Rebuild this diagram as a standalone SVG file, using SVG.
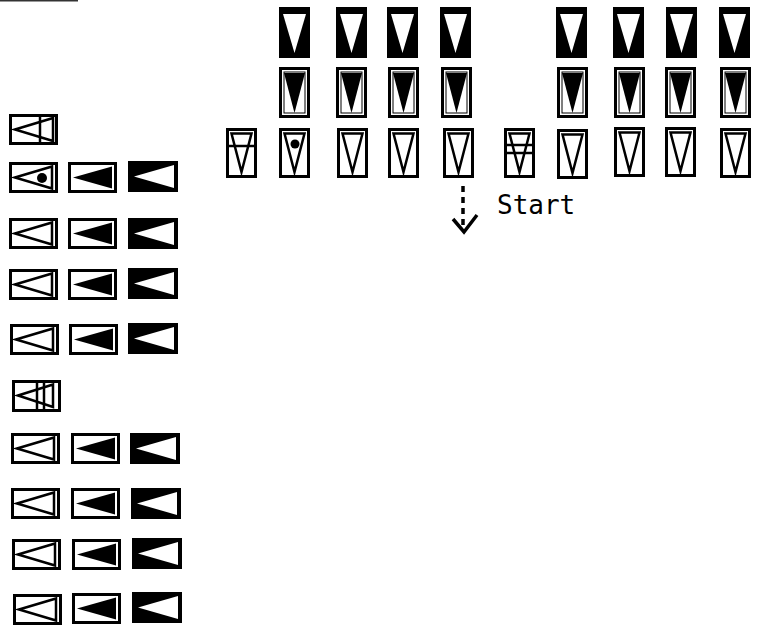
<svg xmlns="http://www.w3.org/2000/svg" xmlns:xlink="http://www.w3.org/1999/xlink" width="763" height="629" viewBox="0 0 763 629">
<style>
.frame{fill:#fff;stroke:#000;stroke-width:3}
.inner{fill:none;stroke:#000;stroke-width:1}
.blk{fill:#000}
.wht{fill:#fff}
.tri{fill:none;stroke:#000;stroke-width:2.5;stroke-linejoin:miter}
.ln{stroke:#000;stroke-width:2.5}
.conn{fill:none;stroke:#000;stroke-width:3.5}
.lbl{font-family:"DejaVu Sans Mono","Liberation Mono",monospace;font-size:26px;fill:#000}
</style>
<defs>
<!-- vertical glyphs 31x51 -->
<g id="vA"><rect x="0" y="0" width="31" height="51" class="blk"/><polygon points="4,7 27,7 15.5,46" class="wht"/></g>
<g id="vB"><rect x="1.5" y="1.5" width="28" height="48" class="frame"/><rect x="5" y="5" width="21" height="41" class="inner"/><polygon points="5,6 26,6 15.5,46" class="blk"/></g>
<g id="vC"><rect x="1.5" y="1.5" width="28" height="47" class="frame"/><polygon points="5.5,5.5 25.5,5.5 15.5,44" class="tri"/></g>
<!-- horizontal glyphs 49x31 -->
<g id="hA"><rect x="0" y="0" width="50" height="31" class="blk"/><polygon points="6,15.5 46,4 46,27" class="wht"/></g>
<g id="hB"><rect x="1.5" y="1.5" width="46" height="28" class="frame"/><polygon points="5,15.5 44,4.5 44,26.5" class="blk"/></g>
<g id="hC"><rect x="1.5" y="1.5" width="46" height="28" class="frame"/><polygon points="6,15.5 43,4.5 43,26.5" class="tri"/></g>
</defs>

<line x1="0" y1="0.8" x2="78" y2="0.8" stroke="#333" stroke-width="1.5"/>

<!-- left column -->
<g id="L0"><rect x="10.5" y="115.5" width="46" height="28" class="frame"/><line x1="40" y1="115" x2="40" y2="144" class="ln"/><polygon points="15,129.5 53,118 53,141" class="tri"/></g>
<g id="L1a"><use xlink:href="#hC" x="9" y="162"/><circle cx="42" cy="178" r="5" class="blk"/></g>
<g id="L1b"><use xlink:href="#hB" x="68" y="162"/></g>
<g id="L1c"><use xlink:href="#hA" x="128" y="161"/></g>
<g id="L2a"><use xlink:href="#hC" x="9" y="218"/></g>
<g id="L2b"><use xlink:href="#hB" x="68" y="218"/></g>
<g id="L2c"><use xlink:href="#hA" x="128" y="218"/></g>
<g id="L3a"><use xlink:href="#hC" x="9" y="269"/></g>
<g id="L3b"><use xlink:href="#hB" x="68" y="269"/></g>
<g id="L3c"><use xlink:href="#hA" x="128" y="268"/></g>
<g id="L4a"><use xlink:href="#hC" x="10" y="324"/></g>
<g id="L4b"><use xlink:href="#hB" x="69" y="324"/></g>
<g id="L4c"><use xlink:href="#hA" x="128" y="323"/></g>
<g id="L5"><rect x="13.5" y="381.5" width="46" height="29" class="frame"/><line x1="37" y1="381" x2="37" y2="411" class="ln"/><line x1="44" y1="381" x2="44" y2="411" class="ln"/><polygon points="18,395.5 53,384.5 53,407" class="tri"/></g>
<g id="L6a"><use xlink:href="#hC" x="11" y="433"/></g>
<g id="L6b"><use xlink:href="#hB" x="71" y="433"/></g>
<g id="L6c"><use xlink:href="#hA" x="130" y="433"/></g>
<g id="L7a"><use xlink:href="#hC" x="11" y="488"/></g>
<g id="L7b"><use xlink:href="#hB" x="71" y="488"/></g>
<g id="L7c"><use xlink:href="#hA" x="131" y="488"/></g>
<g id="L8a"><use xlink:href="#hC" x="12" y="539"/></g>
<g id="L8b"><use xlink:href="#hB" x="72" y="539"/></g>
<g id="L8c"><use xlink:href="#hA" x="132" y="538"/></g>
<g id="L9a"><use xlink:href="#hC" x="13" y="594"/></g>
<g id="L9b"><use xlink:href="#hB" x="72" y="593"/></g>
<g id="L9c"><use xlink:href="#hA" x="132" y="592"/></g>

<!-- top rows -->
<g id="S1"><rect x="227.5" y="129.5" width="28" height="47" class="frame"/><line x1="227" y1="146" x2="256" y2="146" class="ln"/><polygon points="231.5,133.5 251.5,133.5 241.5,172" class="tri"/></g>
<g id="T1a"><use xlink:href="#vA" x="279" y="7"/></g>
<g id="T1b"><use xlink:href="#vB" x="279" y="67"/></g>
<g id="T1c"><use xlink:href="#vC" x="279" y="128"/><circle cx="295" cy="144" r="4.5" class="blk"/></g>
<g id="T2a"><use xlink:href="#vA" x="336" y="7"/></g>
<g id="T2b"><use xlink:href="#vB" x="336" y="67"/></g>
<g id="T2c"><use xlink:href="#vC" x="337" y="128"/></g>
<g id="T3a"><use xlink:href="#vA" x="387" y="7"/></g>
<g id="T3b"><use xlink:href="#vB" x="388" y="67"/></g>
<g id="T3c"><use xlink:href="#vC" x="388" y="128"/></g>
<g id="T4a"><use xlink:href="#vA" x="440" y="7"/></g>
<g id="T4b"><use xlink:href="#vB" x="441" y="67"/></g>
<g id="T4c"><use xlink:href="#vC" x="443" y="128"/></g>
<g id="S2"><rect x="505.5" y="129.5" width="28" height="47" class="frame"/><line x1="505" y1="145" x2="534" y2="145" class="ln"/><line x1="505" y1="153" x2="534" y2="153" class="ln"/><polygon points="509.5,133.5 529.5,133.5 519.5,172" class="tri"/></g>
<g id="T5a"><use xlink:href="#vA" x="556" y="7"/></g>
<g id="T5b"><use xlink:href="#vB" x="557" y="67"/></g>
<g id="T5c"><use xlink:href="#vC" x="557" y="129"/></g>
<g id="T6a"><use xlink:href="#vA" x="613" y="7"/></g>
<g id="T6b"><use xlink:href="#vB" x="614" y="67"/></g>
<g id="T6c"><use xlink:href="#vC" x="614" y="127"/></g>
<g id="T7a"><use xlink:href="#vA" x="666" y="7"/></g>
<g id="T7b"><use xlink:href="#vB" x="665" y="67"/></g>
<g id="T7c"><use xlink:href="#vC" x="665" y="127"/></g>
<g id="T8a"><use xlink:href="#vA" x="719" y="7"/></g>
<g id="T8b"><use xlink:href="#vB" x="720" y="67"/></g>
<g id="T8c"><use xlink:href="#vC" x="720" y="128"/></g>

<!-- connectors -->
<g id="connectors">
<line x1="463" y1="186" x2="463" y2="226" class="conn" stroke-dasharray="6 5"/>
<polyline points="453,219 464,232 477,215" class="conn"/>
</g>

<g id="label-start"><text x="497" y="214" class="lbl">Start</text></g>
</svg>
